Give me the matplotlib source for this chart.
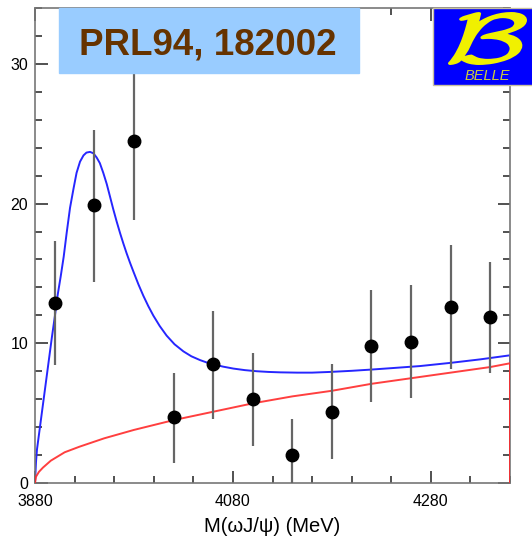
#!/usr/bin/env python3

import numpy as np
import matplotlib
matplotlib.use('Agg')
import matplotlib.pyplot as plt
from matplotlib.patches import Rectangle, PathPatch
from matplotlib.textpath import TextPath
from matplotlib.font_manager import FontProperties
from matplotlib.transforms import Affine2D, IdentityTransform
from matplotlib.ticker import MultipleLocator

# Event yield per 40 MeV bin
MASS = [3900, 3940, 3980, 4020, 4060, 4100, 4140, 4180, 4220, 4260, 4300, 4340]
EVENTS = [12.9, 19.9, 24.5, 4.7, 8.5, 6.0, 2.0, 5.1, 9.8, 10.1, 12.6, 11.9]
ERR_LOW = [4.45, 5.5, 5.7, 3.3, 3.9, 3.35, 2.0, 3.4, 4.0, 4.05, 4.45, 4.05]
ERR_HIGH = [4.4, 5.4, 5.7, 3.2, 3.8, 3.3, 2.6, 3.4, 4.0, 4.05, 4.45, 3.9]

# Fit: resonance + background
FIT_MASS = [3880, 3881, 3882, 3885, 3888, 3891, 3894, 3897, 3900, 3903,
            3906, 3909, 3912, 3915.4, 3919, 3922, 3925.5, 3929, 3932, 3935.6,
            3939, 3942.3, 3945.5, 3949, 3952.5, 3955.8, 3959, 3962.5, 3966,
            3969.3, 3972.5, 3976, 3979.4, 3984.5, 3989.5, 3994.5, 3999.6,
            4006, 4013, 4021, 4030, 4038, 4046.7, 4053, 4060, 4070, 4080.5,
            4092, 4104, 4116, 4128, 4145, 4160, 4178, 4200, 4220, 4240, 4269,
            4300, 4330, 4360]
FIT_TOTAL = [0.0, 1.5, 2.4, 4.0, 5.6, 7.2, 8.8, 10.4, 11.9, 13.5,
             14.8, 16.2, 17.9, 19.7, 21.1, 22.2, 23.0, 23.45, 23.65, 23.7,
             23.6, 23.3, 22.9, 22.2, 21.4, 20.5, 19.62, 18.72, 17.88,
             17.14, 16.46, 15.77, 15.14, 14.22, 13.4, 12.66, 11.98,
             11.24, 10.55, 9.93, 9.42, 9.07, 8.8, 8.64, 8.5, 8.33, 8.19,
             8.08, 8.0, 7.95, 7.92, 7.9, 7.9, 7.95, 8.03, 8.12, 8.22, 8.37,
             8.6, 8.85, 9.14]
BKG_MASS = [3880, 3881, 3884, 3888, 3896, 3910, 3925, 3950, 3980, 4020,
            4060, 4100, 4140, 4180, 4220, 4260, 4300, 4340, 4360]
BKG = [0.0, 0.45, 0.8, 1.1, 1.6, 2.2, 2.6, 3.2, 3.8, 4.5,
       5.1, 5.7, 6.2, 6.6, 7.1, 7.5, 7.9, 8.3, 8.57]

XTICKS = [3880, 4080, 4280]

W, H = 532, 544


def px_to_fig(x, y):
    return x / W, 1 - y / H


def logo_letter(fig, left, top, right, bottom, color):
    # calligraphic B stretched into the logo box (pixel coords, y down)
    tp = TextPath((0, 0), r'$\mathcal{B}$', size=10,
                  prop=FontProperties(math_fontfamily='cm'))
    ext = tp.get_extents()
    sx = (right - left) / ext.width
    sy = (bottom - top) / ext.height
    tr = (Affine2D().translate(-ext.x0, -ext.y0).scale(sx, sy)
          .translate(left, H - bottom))
    patch = PathPatch(tr.transform_path(tp), facecolor=color,
                      edgecolor=color, lw=1.4, transform=IdentityTransform(),
                      zorder=12)
    fig.patches.append(patch)


def main():
    plt.rcParams['font.family'] = ['Liberation Sans', 'DejaVu Sans']
    fig = plt.figure(figsize=(W / 100, H / 100), dpi=100)
    ax = fig.add_axes([35 / W, 61 / H, 475 / W, 475 / H])

    # curves drop back to zero at the upper edge of the fit range
    ax.plot(FIT_MASS + [FIT_MASS[-1]], FIT_TOTAL + [0], color='#2626ff',
            lw=1.4, zorder=2)
    ax.plot(BKG_MASS + [BKG_MASS[-1]], BKG + [0], color='#ff2a2a',
            lw=1.4, alpha=0.9, zorder=3)
    ax.errorbar(MASS, EVENTS, yerr=[ERR_LOW, ERR_HIGH], fmt='o', color='black',
                ecolor='#666666', elinewidth=1.6, markersize=9, capsize=0,
                zorder=4)

    ax.set_xlim(3880, 4360)
    ax.set_ylim(0, 34)
    ax.set_xticks(XTICKS)
    ax.xaxis.set_minor_locator(MultipleLocator(40))
    ax.yaxis.set_minor_locator(MultipleLocator(2))
    ax.set_yticks([0, 10, 20, 30])
    ax.tick_params(which='both', direction='in', top=True, right=True,
                   width=1.1, color='#222222', labelsize=11.5)
    ax.tick_params(which='major', length=9)
    ax.tick_params(which='minor', length=5)
    ax.tick_params(axis='x', pad=8)
    ax.tick_params(axis='y', pad=5)
    for s in ax.spines.values():
        s.set_color('#777777')
        s.set_linewidth(1.2)
    ax.set_xlabel('M(ωJ/ψ) (MeV)', fontsize=14.5, labelpad=6)

    # reference box
    x0, y0 = px_to_fig(59, 73)
    x1, y1 = px_to_fig(359, 7.5)
    fig.patches.append(Rectangle((x0, y0), x1 - x0, y1 - y0,
                                 transform=fig.transFigure, color='#99ccff',
                                 zorder=10))
    tx, ty = px_to_fig(208, 54)
    fig.text(tx, ty, 'PRL94, 182002', ha='center', va='baseline',
             fontsize=26.5, fontweight='bold', color='#663300', zorder=11)

    # Belle logo
    x0, y0 = px_to_fig(433, 85)
    x1, y1 = px_to_fig(533, 8)
    fig.patches.append(Rectangle((x0, y0), x1 - x0, y1 - y0,
                                 transform=fig.transFigure,
                                 facecolor='#0000ff', edgecolor='#c8c0a0',
                                 lw=1, zorder=10))
    logo_letter(fig, 449, 13, 526, 64, '#f0f000')
    lx, ly = px_to_fig(487, 76.5)
    fig.text(lx, ly, 'BELLE', ha='center', va='center', fontsize=10.5,
             fontstyle='italic', color='#cccc3a', zorder=11)

    fig.savefig('out.png', dpi=100)


if __name__ == '__main__':
    main()
